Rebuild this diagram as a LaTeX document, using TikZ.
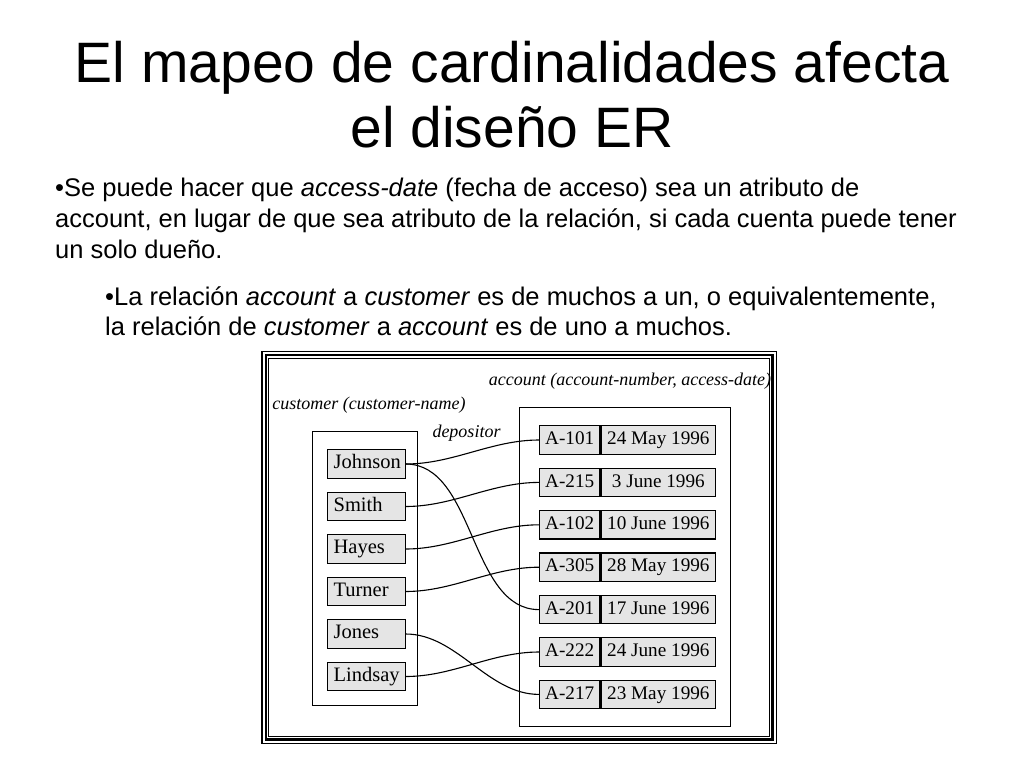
\documentclass[tikz,border=0pt]{standalone}
\usepackage{fontspec}
\setmainfont{Liberation Sans}
\newfontfamily\figfont{Liberation Serif}
\begin{document}
\begin{tikzpicture}[x=1pt,y=-1pt,
  titletext/.style={anchor=base,inner sep=0,font=\fontsize{57}{68}\selectfont},
  bodytext/.style={anchor=base west,inner sep=0,font=\fontsize{25.5}{31}\selectfont},
  figlabel/.style={inner sep=0,font=\figfont\itshape\fontsize{18}{20}\selectfont},
  cell/.style={draw,line width=1.2pt,fill=black!10,anchor=west,
    text height=13.5,text depth=4,inner ysep=5.5,font=\figfont\fontsize{20.5}{22}\selectfont},
  namebox/.style={cell,text width=65.5,inner xsep=6,align=left},
  numcell/.style={cell,minimum width=60.3,inner xsep=0,font=\figfont\fontsize{19.2}{22}\selectfont},
  datecell/.style={cell,minimum width=114.5,inner xsep=0,font=\figfont\fontsize{19.2}{22}\selectfont},
  setbox/.style={draw,line width=1pt},
  link/.style={line width=1.1pt,out=0,in=180,looseness=0.9}]
\useasboundingbox (0,0) rectangle (1024,768);
% title
\node[titletext] (t1) at (512,82) {El mapeo de cardinalidades afecta};
\node[titletext] (t2) at (512,147) {el diseño ER};
% body
\node[bodytext] (b1) at (55,196) {•Se puede hacer que \textit{access-date} (fecha de acceso) sea un atributo de};
\node[bodytext] (b2) at (55,227) {account, en lugar de que sea atributo de la relación, si cada cuenta puede tener};
\node[bodytext] (b3) at (55,258) {un solo dueño.};
\node[bodytext] (b4) at (105,305) {•La relación \textit{account} a \textit{customer} es de muchos a un, o equivalentemente,};
\node[bodytext] (b5) at (105,335) {la relación de \textit{customer} a \textit{account} es de uno a muchos.};
% frame
\draw[line width=1.2pt] (262,351.5) rectangle (776.5,743.5);
\draw[line width=2.4pt] (265.7,355) rectangle (772.6,739.6);
\draw[line width=1pt] (268.8,358.3) rectangle (769,736);
% labels
\node[figlabel] (lacc) at (630,381) {account (account-number, access-date)};
\node[figlabel] (lcus) at (369,405) {customer (customer-name)};
\node[figlabel] (ldep) at (466.5,433) {depositor};
% set boxes
\draw[setbox] (312.5,431) rectangle (417,705.5);
\draw[setbox] (519.3,407) rectangle (730,726.7);
% customers
\node[namebox] (johnson) at (327,464) {Johnson};
\node[namebox] (smith) at (327,506.5) {Smith};
\node[namebox] (hayes) at (327,549) {Hayes};
\node[namebox] (turner) at (327,591.5) {Turner};
\node[namebox] (jones) at (327,634) {Jones};
\node[namebox] (lindsay) at (327,676.5) {Lindsay};
% accounts
\node[numcell] (a101) at (539,440) {A-101};
\node[datecell] (d101) at (a101.east) {24 May 1996};
\node[numcell] (a215) at (539,482.4) {A-215};
\node[datecell] (d215) at (a215.east) {3 June 1996};
\node[numcell] (a102) at (539,524.8) {A-102};
\node[datecell] (d102) at (a102.east) {10 June 1996};
\node[numcell] (a305) at (539,567.2) {A-305};
\node[datecell] (d305) at (a305.east) {28 May 1996};
\node[numcell] (a201) at (539,609.6) {A-201};
\node[datecell] (d201) at (a201.east) {17 June 1996};
\node[numcell] (a222) at (539,652) {A-222};
\node[datecell] (d222) at (a222.east) {24 June 1996};
\node[numcell] (a217) at (539,694.4) {A-217};
\node[datecell] (d217) at (a217.east) {23 May 1996};
% links
\draw[link] (johnson.east) to (a101.west);
\draw[link] (johnson.east) to (a201.west);
\draw[link] (smith.east) to (a215.west);
\draw[link] (hayes.east) to (a102.west);
\draw[link] (turner.east) to (a305.west);
\draw[link] (jones.east) to (a217.west);
\draw[link] (lindsay.east) to (a222.west);
\end{tikzpicture}
\end{document}
